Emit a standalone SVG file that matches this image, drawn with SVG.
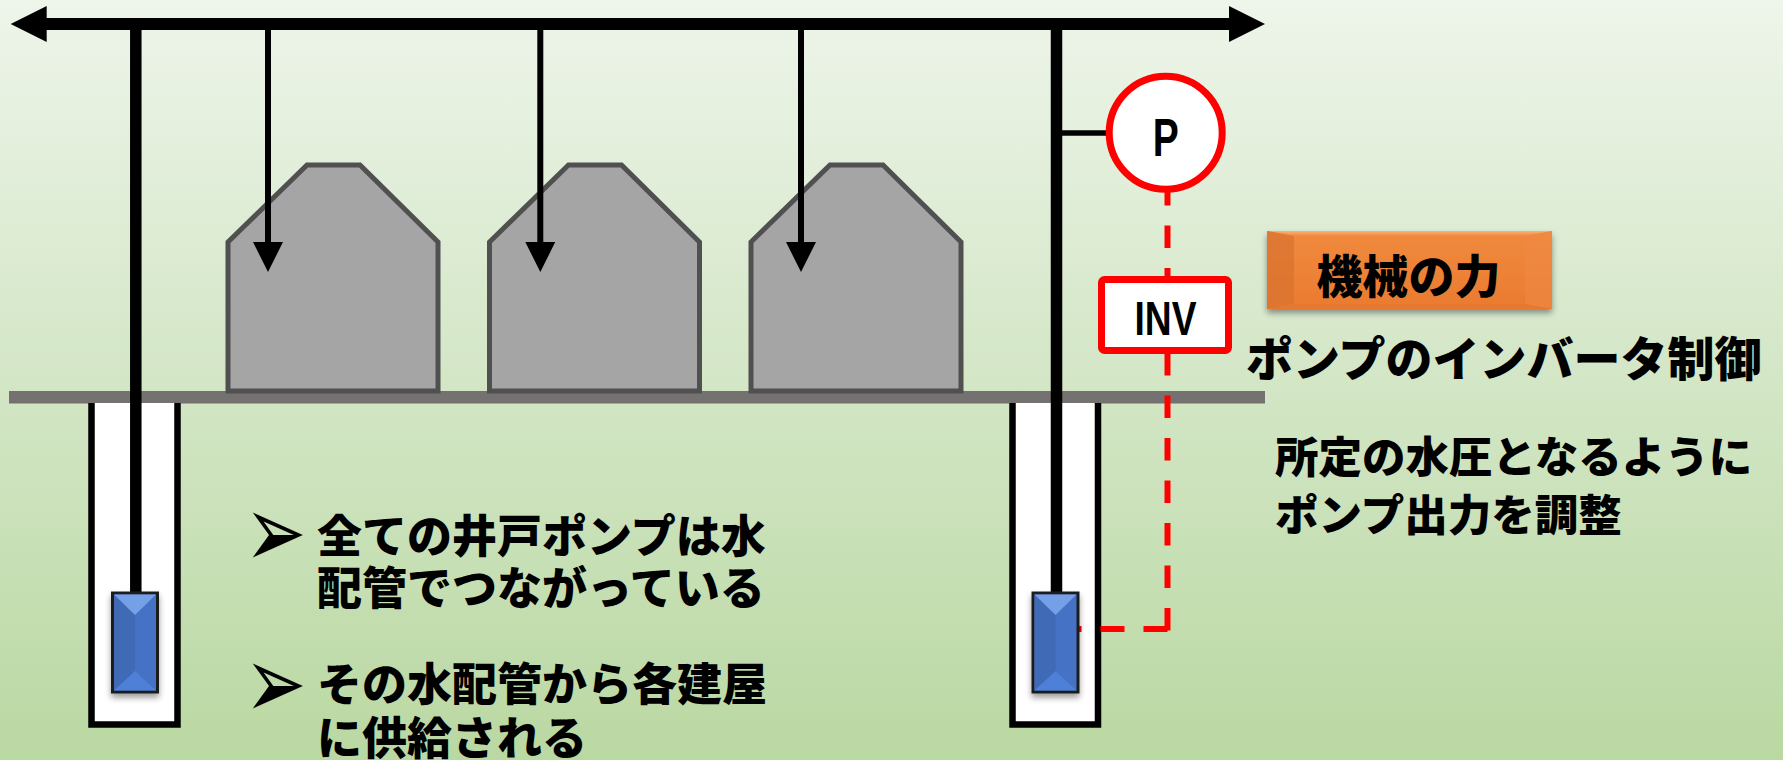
<svg xmlns="http://www.w3.org/2000/svg" width="1783" height="760" viewBox="0 0 1783 760">
  <defs>
    <linearGradient id="bg" x1="0" y1="0" x2="0" y2="1">
      <stop offset="0" stop-color="#EEF5EA"/>
      <stop offset="0.5" stop-color="#D3E6C6"/>
      <stop offset="1" stop-color="#BAD8A2"/>
    </linearGradient>
    <linearGradient id="orangeTop" x1="0" y1="0" x2="0" y2="1">
      <stop offset="0" stop-color="#F7B478"/>
      <stop offset="1" stop-color="#F0893F"/>
    </linearGradient>
    <linearGradient id="orangeBody" x1="0" y1="0" x2="0" y2="1">
      <stop offset="0" stop-color="#F08A3E"/>
      <stop offset="1" stop-color="#EA7B30"/>
    </linearGradient>
    <filter id="shadow" x="-20%" y="-20%" width="140%" height="150%">
      <feGaussianBlur in="SourceAlpha" stdDeviation="3"/>
      <feOffset dx="0" dy="4" result="b"/>
      <feComponentTransfer><feFuncA type="linear" slope="0.4"/></feComponentTransfer>
      <feMerge><feMergeNode/><feMergeNode in="SourceGraphic"/></feMerge>
    </filter>
    <marker id="head" markerUnits="userSpaceOnUse" markerWidth="30" markerHeight="30" viewBox="0 0 30 30" refX="20" refY="15" orient="auto">
      <path d="M0,0 L30,15 L0,30 z" fill="#000"/>
    </marker>
    <!-- submersible pump: bevelled blue block, 45 x 99 -->
    <g id="pump">
      <rect x="0" y="0" width="45" height="99" fill="#4472C4" stroke="#1F1F1F" stroke-width="3"/>
      <polygon points="1.5,1.5 22.5,22 22.5,78 1.5,97.5" fill="#3F69B6"/>
      <polygon points="1.5,1.5 43.5,1.5 22.5,22" fill="#74A0E8"/>
      <polygon points="1.5,97.5 43.5,97.5 22.5,78" fill="#4E80D6"/>
    </g>
    <style>
      .jp { font-family: "Noto Sans CJK JP", "Noto Sans CJK SC", sans-serif; font-weight: 900; fill: #000; }
      .lat { font-family: "Liberation Sans", Arial, sans-serif; font-weight: bold; fill: #000; }
      .bullet { font-family: "DejaVu Sans", sans-serif; font-size: 74px; fill: #000; }
      .bld { fill: #A5A5A5; stroke: #505050; stroke-width: 5; }
      .well { fill: #FFFFFF; stroke: #000; stroke-width: 6.5; }
      .pipe { stroke: #000; stroke-width: 11.5; fill: none; }
      .branch { stroke: #000; stroke-width: 6; fill: none; marker-end: url(#head); }
      .ctrl { stroke: #FF0000; stroke-width: 6; fill: none; }
    </style>
  </defs>

  <rect width="1783" height="760" fill="url(#bg)"/>

  <!-- ground surface -->
  <rect id="ground" x="9" y="391" width="1256" height="12.5" fill="#767171"/>

  <!-- wells -->
  <g id="well-left">
    <path class="well" d="M91.5,403 V724.5 H177.5 V403"/>
  </g>
  <g id="well-right">
    <path class="well" d="M1012.5,403 V724.5 H1098 V403"/>
  </g>

  <!-- buildings -->
  <g id="building-1">
    <polygon class="bld" points="228,391 228,242 307,165 360,165 438,242 438,391"/>
  </g>
  <g id="building-2">
    <polygon class="bld" points="489.5,391 489.5,242 568.5,165 621.5,165 699.5,242 699.5,391"/>
  </g>
  <g id="building-3">
    <polygon class="bld" points="751,391 751,242 830,165 883,165 961,242 961,391"/>
  </g>

  <!-- piping and control lines -->
  <g id="connectors">
    <line class="pipe" x1="135.8" y1="24" x2="135.8" y2="594"/>
    <line class="pipe" x1="1056.5" y1="24" x2="1056.5" y2="594"/>
    <line x1="44" y1="24" x2="1232" y2="24" stroke="#000" stroke-width="12"/>
    <polygon points="10.7,24 46.7,6 46.7,42" fill="#000"/>
    <polygon points="1265,24 1229,6 1229,42" fill="#000"/>
    <line class="branch" x1="268" y1="30" x2="268" y2="262"/>
    <line class="branch" x1="540.3" y1="30" x2="540.3" y2="262"/>
    <line class="branch" x1="801" y1="30" x2="801" y2="262"/>
    <line x1="1060" y1="133" x2="1110" y2="133" stroke="#000" stroke-width="5.5"/>
    <line class="ctrl" x1="1167.5" y1="183" x2="1167.5" y2="631" stroke-dasharray="22.5 20"/>
    <line class="ctrl" x1="1167.5" y1="629" x2="1079" y2="629" stroke-dasharray="24 19"/>
  </g>

  <!-- pumps -->
  <g id="pump-left" filter="url(#shadow)">
    <use href="#pump" x="112.5" y="593"/>
  </g>
  <g id="pump-right" filter="url(#shadow)">
    <use href="#pump" x="1033" y="593"/>
  </g>

  <!-- pressure gauge -->
  <g id="gauge-p">
    <circle cx="1165.7" cy="132.8" r="56.5" fill="#FFFFFF" stroke="#FF0000" stroke-width="7"/>
    <text class="lat" x="1165.7" y="156" font-size="54" text-anchor="middle" textLength="26" lengthAdjust="spacingAndGlyphs">P</text>
  </g>

  <!-- inverter -->
  <g id="inverter">
    <rect x="1101.5" y="279.5" width="127" height="71" rx="3" fill="#FFFFFF" stroke="#FF0000" stroke-width="7"/>
    <text class="lat" x="1165.5" y="335" font-size="48" text-anchor="middle" textLength="62" lengthAdjust="spacingAndGlyphs">INV</text>
  </g>

  <!-- label badge -->
  <g id="badge">
    <g filter="url(#shadow)">
      <rect x="1267" y="231" width="285" height="78" fill="url(#orangeBody)"/>
    </g>
    <polygon points="1267,231 1552,231 1525,236 1294,236" fill="url(#orangeTop)"/>
    <polygon points="1267,231 1294,236 1294,304 1267,309" fill="#D8722F" opacity="0.7"/>
    <polygon points="1552,231 1525,236 1525,304 1552,309" fill="#EE8845" opacity="0.6"/>
    <polygon points="1267,309 1294,304 1525,304 1552,309" fill="#E77830"/>
    <text class="jp" x="1408.5" y="292.5" font-size="46" text-anchor="middle">機械の力</text>
  </g>

  <!-- explanation, right -->
  <g id="notes-right">
    <text class="jp" x="1246" y="376" font-size="47">ポンプのインバータ制御</text>
    <text class="jp" x="1275" y="473" font-size="43.5">所定の水圧となるように</text>
    <text class="jp" x="1275" y="531" font-size="43.5">ポンプ出力を調整</text>
  </g>

  <!-- explanation, left -->
  <g id="notes-left">
    <text class="bullet" transform="translate(244.4,566.8) scale(1,1.38)">➢</text>
    <text class="jp" x="317" y="553" font-size="45">全ての井戸ポンプは水</text>
    <text class="jp" x="317" y="605" font-size="45">配管でつながっている</text>
    <text class="bullet" transform="translate(244.4,717.8) scale(1,1.38)">➢</text>
    <text class="jp" x="317" y="701" font-size="45">その水配管から各建屋</text>
    <text class="jp" x="317" y="755" font-size="45">に供給される</text>
  </g>
</svg>
